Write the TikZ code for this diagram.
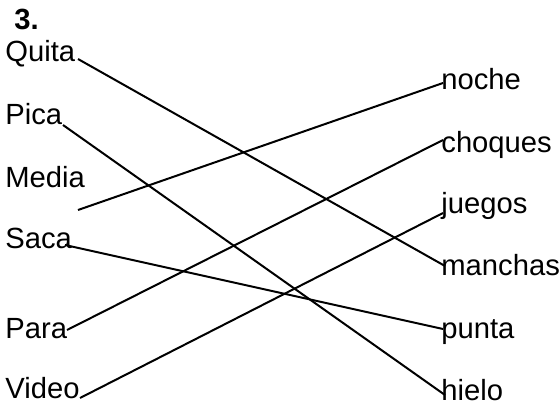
\documentclass[tikz,border=0pt]{standalone}
\usepackage{fontspec}
\setmainfont{Liberation Sans}
\usetikzlibrary{calc}
\begin{document}
\begin{tikzpicture}[x=0.5pt,y=-0.5pt,
  word/.style={anchor=base west,inner sep=0pt,font=\fontsize{14.6}{17}\selectfont},
  link/.style={line width=1pt,black}]
\useasboundingbox (0,0) rectangle (560,406);
\node[word,font=\fontsize{14.6}{17}\selectfont\bfseries] (num) at (14,30) {3.};
% left column
\node[word] (quita) at (5,62) {Quita};
\node[word] (pica) at (5,125) {Pica};
\node[word] (media) at (5,187) {Media};
\node[word] (saca) at (5,248) {Saca};
\node[word] (para) at (5,338) {Para};
\node[word] (video) at (5,398) {Video};
% right column
\node[word] (noche) at (441,90) {noche};
\node[word] (choques) at (441,152) {choques};
\node[word] (juegos) at (441,213) {juegos};
\node[word] (manchas) at (441,275) {manchas};
\node[word] (punta) at (441,338) {punta};
\node[word] (hielo) at (441,400) {hielo};
\coordinate (free) at (78,210);
% connectors
\draw[link] ($(quita.base west)+(73,-3)$) -- ($(manchas.base west)+(4,-9)$);
\draw[link] ($(pica.base west)+(58,0)$) -- ($(hielo.base west)+(4,-5)$);
\draw[link] (free) -- ($(noche.base west)+(2,-7)$);
\draw[link] ($(saca.base west)+(60,-3)$) -- ($(punta.base west)+(2,-9)$);
\draw[link] ($(para.base west)+(62,-8)$) -- ($(choques.base west)+(2,-12)$);
\draw[link] ($(video.base west)+(75,0)$) -- ($(juegos.base west)+(2,0)$);
\end{tikzpicture}
\end{document}
